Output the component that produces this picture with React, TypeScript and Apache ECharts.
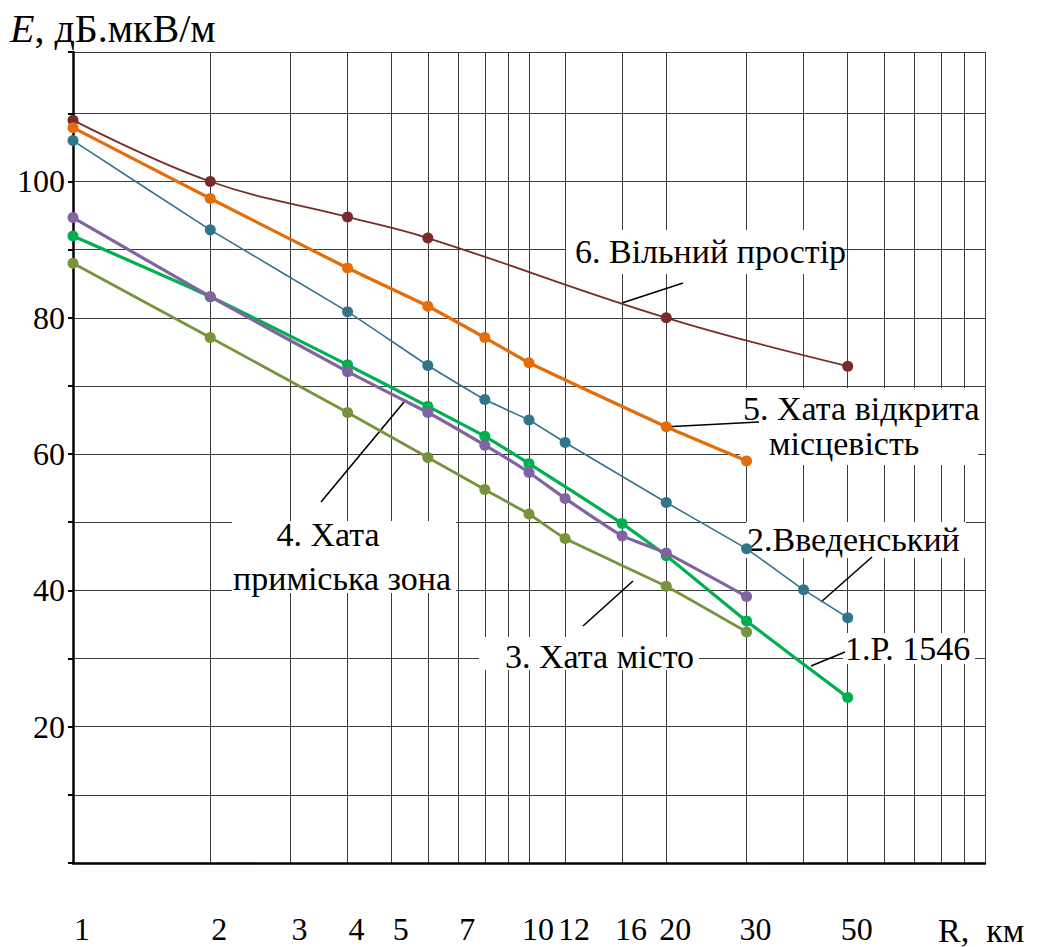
import React, { useEffect, useRef } from 'react';
import * as echarts from 'echarts';

const FAMILY = 'Liberation Serif';

// Distance R, km (log scale) — grid lines and tick labels
const X_GRID_VALUES = [1, 2, 3, 4, 5, 6, 7, 8, 9, 10, 12, 16, 20, 30, 40, 50, 60, 70, 80, 90, 100];
const X_TICK_LABELS = [1, 2, 3, 4, 5, 7, 10, 12, 16, 20, 30, 50];
const Y_TICK_LABELS = [20, 40, 60, 80, 100];

// 1. Р. 1546
const R1 = [1, 2, 4, 6, 8, 10, 16, 20, 30, 50];
const E1 = [92.0, 83.1, 73.1, 67.0, 62.6, 58.6, 49.8, 45.1, 35.5, 24.3];
// 2. Введенський
const R2 = [1, 2, 4, 6, 8, 10, 12, 20, 30, 40, 50];
const E2 = [106.0, 92.9, 80.9, 73.0, 68.0, 65.0, 61.7, 52.9, 46.1, 40.1, 36.0];
// 3. Хата місто
const R3 = [1, 2, 4, 6, 8, 10, 12, 20, 30];
const E3 = [88.0, 77.1, 66.1, 59.5, 54.8, 51.2, 47.6, 40.6, 33.9];
// 4. Хата приміська зона
const R4 = [1, 2, 4, 6, 8, 10, 12, 16, 20, 30];
const E4 = [94.7, 83.1, 72.1, 66.1, 61.3, 57.3, 53.5, 48.0, 45.5, 39.1];
// 5. Хата відкрита місцевість
const R5 = [1, 2, 4, 6, 8, 10, 20, 30];
const E5 = [107.9, 97.5, 87.3, 81.7, 77.1, 73.4, 64.0, 59.0];
// 6. Вільний простір
const R6 = [1, 2, 4, 6, 20, 50];
const E6 = [109.0, 100.0, 94.8, 91.7, 80.0, 72.9];

const SERIES_DEFS = [
  { name: '6. Вільний простір', r: R6, e: E6, color: '#772C2A', width: 1.8, smooth: 0.4 },
  { name: '5. Хата відкрита місцевість', r: R5, e: E5, color: '#E46C0A', width: 3.2, smooth: 0.15 },
  { name: '2. Введенський', r: R2, e: E2, color: '#31758A', width: 1.6, smooth: 0.1 },
  { name: '3. Хата місто', r: R3, e: E3, color: '#77933C', width: 2.8, smooth: 0.1 },
  { name: '1. Р. 1546', r: R1, e: E1, color: '#00B050', width: 3.2, smooth: 0.15 },
  { name: '4. Хата приміська зона', r: R4, e: E4, color: '#8064A2', width: 3.2, smooth: 0.1 },
];

const toXY = (rs: number[], es: number[]) => rs.map((r, i) => [Math.log10(r), es[i]]);

function box(x: number, y: number, w: number, h: number) {
  return { type: 'rect', z: 1, silent: true, shape: { x, y, width: w, height: h }, style: { fill: '#ffffff' } };
}
function txt(text: string, x: number, y: number, align: string = 'left', size: number = 34) {
  return {
    type: 'text', z: 1, silent: true, x, y,
    style: { text, fontSize: size, fontFamily: FAMILY, fill: '#000', align, verticalAlign: 'middle' },
  };
}
function leader(x1: number, y1: number, x2: number, y2: number) {
  return { type: 'line', z: 1, silent: true, shape: { x1, y1, x2, y2 }, style: { stroke: '#000', lineWidth: 1.6 } };
}

export default function App() {
  const ref = useRef<HTMLDivElement>(null);
  useEffect(() => {
    if (!ref.current) return;
    const chart = echarts.init(ref.current, undefined, { renderer: 'svg' });
    const option: any = {
      animation: false,
      backgroundColor: '#ffffff',
      textStyle: { fontFamily: FAMILY },
      grid: { left: 73, right: 55, top: 52, bottom: 84, show: false },
      xAxis: {
        type: 'value',
        min: 0,
        max: 2,
        axisLine: { show: true, onZero: false, lineStyle: { color: '#000', width: 2.5 } },
        axisTick: { show: false, customValues: X_GRID_VALUES.map((v) => Math.log10(v)) },
        axisLabel: {
          customValues: X_TICK_LABELS.map((v) => Math.log10(v)),
          formatter: (v: number) => String(Math.round(Math.pow(10, v))),
          fontFamily: FAMILY,
          fontSize: 32,
          color: '#000',
          margin: 50,
          padding: [0, 0, 0, 18],
        },
        splitLine: { show: true, lineStyle: { color: '#3c3c3c', width: 1 } },
      },
      yAxis: {
        type: 'value',
        min: 0,
        max: 119,
        interval: 10,
        axisLine: { show: true, lineStyle: { color: '#000', width: 2.5 } },
        axisTick: { show: true, length: 5, lineStyle: { color: '#000', width: 2 } },
        axisLabel: {
          formatter: (v: number) => (Y_TICK_LABELS.indexOf(v) >= 0 ? String(v) : ''),
          fontFamily: FAMILY,
          fontSize: 32,
          color: '#000',
          margin: 8,
        },
        splitLine: { show: true, lineStyle: { color: '#3c3c3c', width: 1 } },
      },
      series: SERIES_DEFS.map((s) => ({
        name: s.name,
        type: 'line',
        z: 2,
        data: toXY(s.r, s.e),
        smooth: s.smooth,
        symbol: 'circle',
        symbolSize: 11,
        clip: false,
        lineStyle: { color: s.color, width: s.width },
        itemStyle: { color: s.color },
      })),
      graphic: [
        {
          type: 'text', x: 10, y: 28, silent: true,
          style: {
            text: '{i|E}{n|, дБ.мкВ/м}',
            fill: '#000', verticalAlign: 'middle',
            rich: {
              i: { fontStyle: 'italic', fontSize: 40, fontFamily: FAMILY, fill: '#000' },
              n: { fontSize: 40, fontFamily: FAMILY, fill: '#000' },
            },
          },
        },
        txt('R,  км', 938, 930, 'left', 34),
        // 6
        box(566, 230, 278, 44),
        txt('6. Вільний простір', 575, 251),
        leader(622, 303, 683, 283),
        // 5
        box(740, 388, 238, 77),
        txt('5. Хата відкрита', 743, 408),
        txt('місцевість', 769, 443),
        leader(663, 427, 759, 422),
        // 2
        box(746, 522, 220, 36),
        txt('2.Введенський', 747, 539),
        leader(821, 602, 872, 557),
        // 1
        box(843, 633, 132, 31),
        txt('1.Р. 1546', 845, 648),
        leader(811, 666, 845, 652),
        // 3
        box(479, 637, 220, 33),
        txt('3. Хата місто', 505, 656),
        leader(633, 581, 583, 626),
        // 4
        box(232, 521, 224, 72),
        txt('4. Хата', 328, 534, 'center'),
        txt('приміська зона', 233, 578),
        leader(404, 402, 321, 502),
      ],
    };
    chart.setOption(option);
    return () => chart.dispose();
  }, []);
  return (
    <div
      ref={ref}
      style={{ position: 'fixed', left: 0, top: 0, width: 1040, height: 947, background: '#fff' }}
    />
  );
}
